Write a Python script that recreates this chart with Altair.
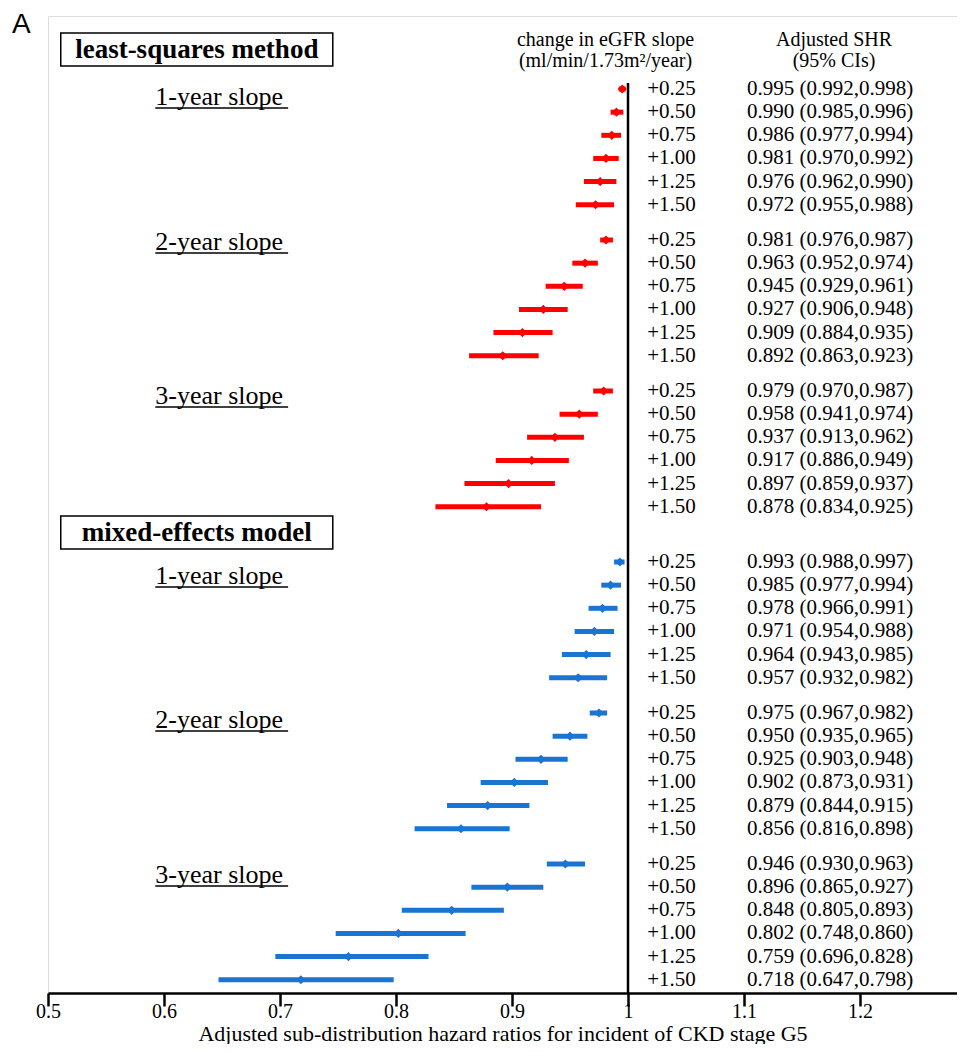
import altair as alt
import pandas as pd

# ---------------- data ----------------
methods = ["least-squares method"] * 3 + ["mixed-effects model"] * 3
slopes = ["1-year slope", "2-year slope", "3-year slope"] * 2
changes = ["+0.25", "+0.50", "+0.75", "+1.00", "+1.25", "+1.50"]

est = [
    [0.995, 0.990, 0.986, 0.981, 0.976, 0.972],
    [0.981, 0.963, 0.945, 0.927, 0.909, 0.892],
    [0.979, 0.958, 0.937, 0.917, 0.897, 0.878],
    [0.993, 0.985, 0.978, 0.971, 0.964, 0.957],
    [0.975, 0.950, 0.925, 0.902, 0.879, 0.856],
    [0.946, 0.896, 0.848, 0.802, 0.759, 0.718],
]
lo = [
    [0.992, 0.985, 0.977, 0.970, 0.962, 0.955],
    [0.976, 0.952, 0.929, 0.906, 0.884, 0.863],
    [0.970, 0.941, 0.913, 0.886, 0.859, 0.834],
    [0.988, 0.977, 0.966, 0.954, 0.943, 0.932],
    [0.967, 0.935, 0.903, 0.873, 0.844, 0.816],
    [0.930, 0.865, 0.805, 0.748, 0.696, 0.647],
]
hi = [
    [0.998, 0.996, 0.994, 0.992, 0.990, 0.988],
    [0.987, 0.974, 0.961, 0.948, 0.935, 0.923],
    [0.987, 0.974, 0.962, 0.949, 0.937, 0.925],
    [0.997, 0.994, 0.991, 0.988, 0.985, 0.982],
    [0.982, 0.965, 0.948, 0.931, 0.915, 0.898],
    [0.963, 0.927, 0.893, 0.860, 0.828, 0.798],
]

tick_values = [0.5, 0.6, 0.7, 0.8, 0.9, 1.0, 1.1, 1.2]
x_title = "Adjusted sub-distribution hazard ratios for incident of CKD stage G5"

# ---------------- layout (vertical units, 0 = top of plot) ----------------
H = 977
W = 909
X0, X1 = 0.5, 0.5 + W / 1160.0
ROW0 = 73
ROW_STEP = 23.15
GROUP_STEP = 151
METHOD_GAP = 20
label_offsets = [8, 2, 5, 14, 7, 11]
X_CHANGE = 1.0165
X_SHR = 1.1025
X_GLABEL = 0.5925
GLABEL_W = 0.1145
BOX = dict(x=0.511, x2=0.7455)
HEADER_X1 = 0.9806
HEADER_X2 = 1.1776

rows = []
glabels = []
for g in range(6):
    base = ROW0 + g * GROUP_STEP + (METHOD_GAP if g >= 3 else 0)
    for k in range(6):
        rows.append(dict(
            method=methods[g], slope=slopes[g], change=changes[k],
            est=est[g][k], lo=lo[g][k], hi=hi[g][k],
            ypos=base + k * ROW_STEP,
            shr=f"{est[g][k]:.3f} ({lo[g][k]:.3f},{hi[g][k]:.3f})",
        ))
    glabels.append(dict(label=slopes[g], ypos=base + label_offsets[g],
                        x=X_GLABEL, x2=X_GLABEL + GLABEL_W))
df = pd.DataFrame(rows)
gl = pd.DataFrame(glabels)

boxes = pd.DataFrame([
    dict(label="least-squares method", y=17, y2=50, ymid=34, **BOX),
    dict(label="mixed-effects model", y=500, y2=533, ymid=517, **BOX),
])
headers = pd.DataFrame([
    dict(x=HEADER_X1, ypos=24, t="change in eGFR slope"),
    dict(x=HEADER_X1, ypos=45, t="(ml/min/1.73m²/year)"),
    dict(x=HEADER_X2, ypos=24, t="Adjusted SHR"),
    dict(x=HEADER_X2, ypos=45, t="(95% CIs)"),
])
vline = pd.DataFrame([dict(x=1.0, y=67, y2=H)])

xs = alt.Scale(domain=[X0, X1], nice=False, zero=False)
ys = alt.Scale(domain=[0, H], reverse=True, nice=False, zero=False)
FONT = "Liberation Serif"
colors = alt.Scale(domain=["least-squares method", "mixed-effects model"],
                   range=["#ff0000", "#1a75d2"])

xaxis = alt.Axis(
    values=tick_values, title=x_title,
    grid=False, domainColor="black", domainWidth=2.5, tickColor="black", tickWidth=2.5,
    tickSize=13, labelFont=FONT, labelFontSize=20, labelColor="black", labelPadding=11,
    labelBaseline="alphabetic", labelFlush=False,
    titleFont=FONT, titleFontSize=22, titleFontWeight="normal", titleColor="black",
    titleBaseline="alphabetic", titleY=47,
    labelExpr="format(datum.value, '.1~f')")
ynone = alt.Y("ypos:Q", scale=ys, axis=None)

bars = alt.Chart(df).mark_rule(strokeWidth=5).encode(
    x=alt.X("lo:Q", scale=xs, axis=xaxis), x2="hi:Q", y=ynone,
    color=alt.Color("method:N", scale=colors, legend=None),
)

points = alt.Chart(df).mark_point(shape="diamond", filled=True, size=85, opacity=1).encode(
    x=alt.X("est:Q", scale=xs), y=ynone,
    color=alt.Color("method:N", scale=colors, legend=None),
)

vrule = alt.Chart(vline).mark_rule(color="black", strokeWidth=2.5).encode(
    x=alt.X("x:Q", scale=xs), y=alt.Y("y:Q", scale=ys, axis=None), y2="y2:Q")

change_txt = alt.Chart(df).mark_text(align="left", baseline="middle", font=FONT,
                                     fontSize=21, color="black").encode(
    x=alt.X("xc:Q", scale=xs), y=ynone, text="change:N"
).transform_calculate(xc=str(X_CHANGE))

shr_txt = alt.Chart(df).mark_text(align="left", baseline="middle", font=FONT,
                                  fontSize=21, color="black").encode(
    x=alt.X("xs:Q", scale=xs), y=ynone, text="shr:N"
).transform_calculate(xs=str(X_SHR))

head_txt = alt.Chart(headers).mark_text(align="center", baseline="middle", font=FONT,
                                        fontSize=20, color="black").encode(
    x=alt.X("x:Q", scale=xs), y=alt.Y("ypos:Q", scale=ys, axis=None), text="t:N")

box_rect = alt.Chart(boxes).mark_rect(fill="white", stroke="black", strokeWidth=1.5).encode(
    x=alt.X("x:Q", scale=xs), x2="x2:Q", y=alt.Y("y:Q", scale=ys, axis=None), y2="y2:Q")
box_txt = alt.Chart(boxes).mark_text(align="center", baseline="middle", font=FONT,
                                     fontSize=27, fontWeight="bold", color="black").encode(
    x=alt.X("xm:Q", scale=xs), y=alt.Y("ymid:Q", scale=ys, axis=None), text="label:N"
).transform_calculate(xm="(datum.x + datum.x2) / 2")

glabel_txt = alt.Chart(gl).mark_text(align="left", baseline="alphabetic", font=FONT,
                                     fontSize=26, color="black").encode(
    x=alt.X("x:Q", scale=xs), y=alt.Y("yb:Q", scale=ys, axis=None), text="label:N"
).transform_calculate(yb="datum.ypos + 8")
glabel_ul = alt.Chart(gl).mark_rule(color="black", strokeWidth=1.3).encode(
    x=alt.X("x:Q", scale=xs), x2="x2:Q",
    y=alt.Y("yu:Q", scale=ys, axis=None)
).transform_calculate(yu="datum.ypos + 11")

chart = alt.layer(
    bars, box_rect, box_txt, glabel_txt, glabel_ul, vrule, points,
    change_txt, shr_txt, head_txt,
).properties(
    width=W, height=H,
    autosize=alt.AutoSizeParams(type="none"),
    padding={"left": 40, "top": 8, "right": 0, "bottom": 51},
    title=alt.TitleParams("A", anchor="start", font="Liberation Sans", fontSize=28,
                          fontWeight="normal", color="black", dx=-36, dy=23, offset=0,
                          baseline="top", frame="group"),
).configure_view(fill="#f1f1f1", stroke=None).configure(background="white")

chart.save("out.html", embed_options={"renderer": "svg", "actions": False})
